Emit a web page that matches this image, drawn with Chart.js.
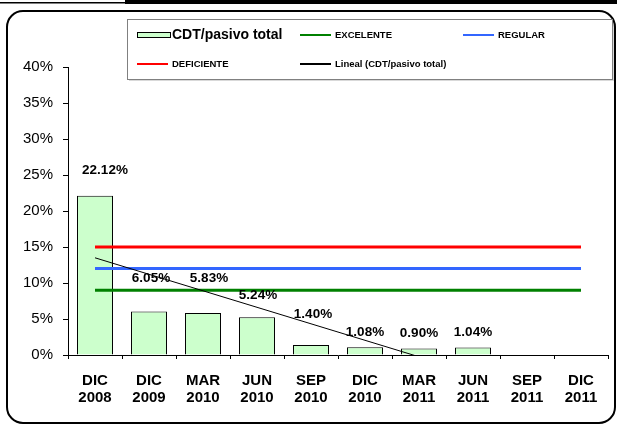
<!DOCTYPE html>
<html>
<head>
<meta charset="utf-8">
<script src="https://cdn.jsdelivr.net/npm/chart.js@4.4.0/dist/chart.umd.min.js"></script>
<style>
  body { margin: 0; background: #fff; }
  canvas { display: block; }
</style>
</head>
<body>
<canvas id="cdt-chart" width="617" height="425"></canvas>
<script>
// data
var months = ["DIC", "DIC", "MAR", "JUN", "SEP", "DIC", "MAR", "JUN", "SEP", "DIC"];
var years = ["2008", "2009", "2010", "2010", "2010", "2010", "2011", "2011", "2011", "2011"];
var cdtValues = [22.12, 6.05, 5.83, 5.24, 1.40, 1.08, 0.90, 1.04, null, null];
var excelente = [9, 9, 9, 9, 9, 9, 9, 9, 9, 9];
var regular = [12, 12, 12, 12, 12, 12, 12, 12, 12, 12];
var deficiente = [15, 15, 15, 15, 15, 15, 15, 15, 15, 15];
// excel trend line, start and end (clipped at 0%)
var trendValues = [13.5, null, null, null, null, null, null, -2.54, null, null];

var labels = months.map(function(m, i) { return [m, years[i]]; });

var FONT = "'Liberation Sans', Arial, sans-serif";
Chart.defaults.font.family = FONT;
Chart.defaults.color = '#000';

// frame round the whole chart and the bars at the top edge
var framePlugin = {
    id: 'frame',
    beforeDraw: function(chart) {
        var ctx = chart.ctx;
        ctx.save();
        ctx.fillStyle = '#fff';
        ctx.fillRect(0, 0, chart.width, chart.height);

        ctx.fillStyle = '#000';
        ctx.fillRect(0, 2, 126, 1.5);
        ctx.fillRect(125, 0, 492, 4);

        ctx.strokeStyle = '#000';
        ctx.lineWidth = 2;
        ctx.beginPath();
        ctx.roundRect(7, 11, 608, 412, 16);
        ctx.stroke();
        ctx.restore();
    }
};

// legend box, drawn by hand to get the two-row excel layout
var legendPlugin = {
    id: 'boxLegend',
    afterDraw: function(chart) {
        var ctx = chart.ctx;
        var ds = chart.data.datasets;
        ctx.save();
        ctx.fillStyle = 'rgba(0,0,0,0.15)';
        ctx.fillRect(129, 21, 485, 60);
        ctx.fillStyle = '#fff';
        ctx.fillRect(127, 19, 486, 60);
        ctx.strokeStyle = '#808080';
        ctx.lineWidth = 1;
        ctx.strokeRect(127.5, 19.5, 485, 60);

        ctx.textBaseline = 'middle';
        ctx.textAlign = 'left';

        // bar swatch
        ctx.fillStyle = ds[0].backgroundColor;
        ctx.fillRect(137.5, 32.5, 33, 5);
        ctx.strokeStyle = '#000';
        ctx.strokeRect(137.5, 32.5, 33, 5);
        ctx.fillStyle = '#000';
        ctx.font = 'bold 14px ' + FONT;
        ctx.fillText(ds[0].label, 172, 35);

        var items = [
            { d: ds[1], x: 300, y: 35 },
            { d: ds[2], x: 463, y: 35 },
            { d: ds[3], x: 137, y: 64 },
            { d: ds[4], x: 300, y: 64 }
        ];
        ctx.font = 'bold 9.5px ' + FONT;
        items.forEach(function(it) {
            ctx.strokeStyle = it.d.borderColor;
            ctx.lineWidth = 2;
            ctx.beginPath();
            ctx.moveTo(it.x, it.y);
            ctx.lineTo(it.x + 31, it.y);
            ctx.stroke();
            ctx.fillStyle = '#000';
            ctx.fillText(it.d.label, it.x + 35, it.y);
        });
        ctx.restore();
    }
};

// value labels, nudged like in the original
var valueLabelPlugin = {
    id: 'valueLabels',
    afterDatasetsDraw: function(chart, args, opts) {
        var ctx = chart.ctx;
        var meta = chart.getDatasetMeta(0);
        var values = chart.data.datasets[0].data;
        ctx.save();
        ctx.font = 'bold 13.5px ' + FONT;
        ctx.fillStyle = '#000';
        ctx.textAlign = 'center';
        ctx.textBaseline = 'middle';
        meta.data.forEach(function(bar, i) {
            if (values[i] === null) return;
            var shift = opts.shift[i] || [0, 15];
            ctx.fillText(values[i].toFixed(2) + '%', bar.x + shift[0], bar.y - shift[1]);
        });
        ctx.restore();
    }
};

var ctx = document.getElementById('cdt-chart').getContext('2d');

var myChart = new Chart(ctx, {
    type: 'bar',
    data: {
        labels: labels,
        datasets: [
            {
                type: 'bar',
                label: 'CDT/pasivo total',
                data: cdtValues,
                backgroundColor: '#ccffcc',
                borderColor: '#000',
                borderWidth: 1,
                barPercentage: 0.667,
                categoryPercentage: 1,
                order: 5
            },
            {
                type: 'line',
                label: 'EXCELENTE',
                data: excelente,
                borderColor: '#008000',
                borderWidth: 3,
                pointRadius: 0,
                order: 4
            },
            {
                type: 'line',
                label: 'REGULAR',
                data: regular,
                borderColor: '#3366ff',
                borderWidth: 3,
                pointRadius: 0,
                order: 3
            },
            {
                type: 'line',
                label: 'DEFICIENTE',
                data: deficiente,
                borderColor: '#ff0000',
                borderWidth: 3,
                pointRadius: 0,
                order: 2
            },
            {
                type: 'line',
                label: 'Lineal (CDT/pasivo total)',
                data: trendValues,
                borderColor: '#000',
                borderWidth: 1,
                pointRadius: 0,
                spanGaps: true,
                order: 1
            }
        ]
    },
    options: {
        responsive: false,
        animation: false,
        devicePixelRatio: 1,
        layout: {
            padding: { left: 8, top: 67, right: 9, bottom: 0 }
        },
        scales: {
            x: {
                offset: true,
                grid: {
                    offset: true,
                    drawOnChartArea: false,
                    tickLength: 4,
                    color: '#000'
                },
                border: { color: '#000', width: 1 },
                ticks: {
                    autoSkip: false,
                    maxRotation: 0,
                    padding: 13,
                    font: { size: 15, weight: 'bold', lineHeight: 1.15 }
                },
                afterFit: function(scale) { scale.height = 70; }
            },
            y: {
                min: 0,
                max: 40,
                grid: {
                    drawOnChartArea: false,
                    tickLength: 5,
                    color: '#000'
                },
                border: { color: '#000', width: 1 },
                ticks: {
                    stepSize: 5,
                    padding: 10,
                    font: { size: 15 },
                    callback: function(v) { return v + '%'; }
                },
                afterFit: function(scale) { scale.width = 60; }
            }
        },
        plugins: {
            legend: { display: false },
            tooltip: { enabled: false },
            valueLabels: {
                shift: [[10, 25], [2, 33], [6, 35], [1, 22], [2, 31], [0, 15], [0, 15.5], [0, 15.5]]
            }
        }
    },
    plugins: [framePlugin, legendPlugin, valueLabelPlugin]
});
</script>
</body>
</html>
